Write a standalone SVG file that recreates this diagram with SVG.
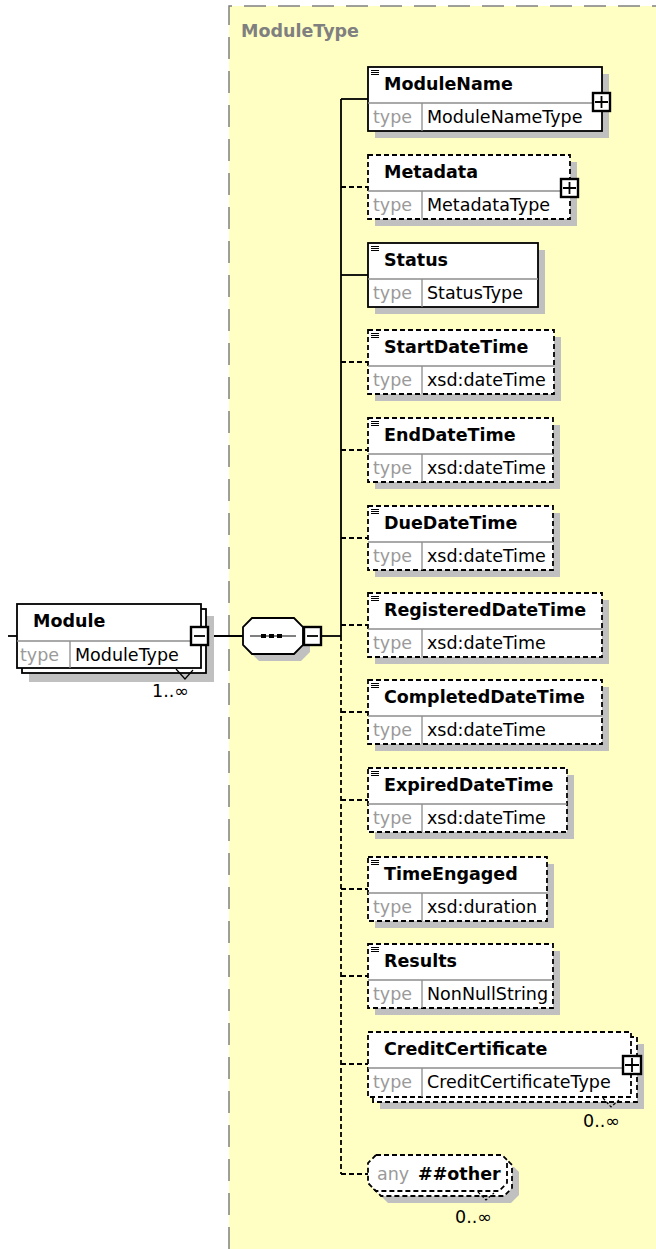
<svg xmlns="http://www.w3.org/2000/svg" width="656" height="1249" viewBox="0 0 656 1249">
<defs>
<style>
.bg{fill:#FFFFC4}
.frame{fill:none;stroke:#808080;stroke-width:1.5;stroke-dasharray:22 12}
.title{font-family:"DejaVu Sans",Verdana,sans-serif;font-weight:bold;font-size:17.5px;fill:#808080}
.shadow{fill:#C0C0C0;stroke:none}
.box{fill:#FFFFFF;stroke:#000;stroke-width:1.8}
.opt{stroke-dasharray:5 3}
.div{stroke:#8C8C8C;stroke-width:1.3;fill:none}
.name{font-family:"DejaVu Sans",Verdana,sans-serif;font-weight:bold;font-size:17.5px;fill:#000}
.lbl{font-family:"DejaVu Sans",Verdana,sans-serif;font-size:17.5px;fill:#9A9A9A}
.val{font-family:"DejaVu Sans",Verdana,sans-serif;font-size:17.5px;fill:#000}
.occ{font-family:"DejaVu Sans",Verdana,sans-serif;font-size:17.5px;fill:#000}
.icon{stroke:#000;stroke-width:1}
.btn{fill:#fff;stroke:#000;stroke-width:2.4}
.sym{stroke:#000;stroke-width:1.8}
.conn{fill:none;stroke:#000;stroke-width:1.8}
.conn.d{stroke-dasharray:5 3}
.tri{fill:none;stroke:#000;stroke-width:1.2}
</style>
</defs>

<rect class="bg" x="229" y="6" width="427" height="1243"/>
<path class="frame" d="M229,1249 V6 H656"/>
<text class="title" x="241" y="37">ModuleType</text>

<g id="connectors">
  <line class="conn" x1="8" y1="636" x2="17" y2="636"/>
  <line class="conn" x1="208" y1="636" x2="243" y2="636"/>
  <line class="conn" x1="321" y1="636" x2="341" y2="636"/>
  <line class="conn" x1="341" y1="99" x2="341" y2="636"/>
  <line class="conn d" x1="341" y1="636" x2="341" y2="1174"/>
  <line class="conn" x1="341" y1="99" x2="368" y2="99"/>
  <line class="conn d" x1="341" y1="187" x2="368" y2="187"/>
  <line class="conn" x1="341" y1="275" x2="368" y2="275"/>
  <line class="conn d" x1="341" y1="362" x2="368" y2="362"/>
  <line class="conn d" x1="341" y1="450" x2="368" y2="450"/>
  <line class="conn d" x1="341" y1="538" x2="368" y2="538"/>
  <line class="conn d" x1="341" y1="625" x2="368" y2="625"/>
  <line class="conn d" x1="341" y1="712" x2="368" y2="712"/>
  <line class="conn d" x1="341" y1="800" x2="368" y2="800"/>
  <line class="conn d" x1="341" y1="889" x2="368" y2="889"/>
  <line class="conn d" x1="341" y1="976" x2="368" y2="976"/>
  <line class="conn d" x1="341" y1="1064" x2="368" y2="1064"/>
  <line class="conn d" x1="341" y1="1174" x2="368" y2="1174"/>
</g>

<g id="Module">
  <rect class="shadow" x="29" y="616" width="185" height="66"/>
  <rect class="box" x="22" y="609" width="184" height="64"/>
  <rect class="box" x="17" y="604" width="184" height="64"/>
  <line class="div" x1="17" y1="641" x2="201" y2="641"/>
  <line class="div" x1="70" y1="641" x2="70" y2="668"/>
  <text class="name" x="33" y="627">Module</text>
  <text class="lbl" x="20" y="661">type</text>
  <text class="val" x="75" y="661">ModuleType</text>
  <polyline class="tri" points="176,669 185,679 193,670"/>
  <rect class="btn" x="191" y="627" width="17" height="18"/>
  <line class="sym" x1="194" y1="636" x2="205" y2="636"/>
  <text class="occ" x="152" y="697">1..∞</text>
</g>

<g id="sequence">
  <polygon class="shadow" points="259,625 301,625 310,634 310,652 301,661 259,661 250,652 250,634"/>
  <polygon class="box" points="252,618 294,618 303,627 303,645 294,654 252,654 243,645 243,627"/>
  <line class="icon" x1="250" y1="636" x2="296" y2="636"/>
  <rect x="261" y="634" width="5" height="4" fill="#000"/>
  <rect x="269" y="634" width="5" height="4" fill="#000"/>
  <rect x="277" y="634" width="5" height="4" fill="#000"/>
  <rect class="btn" x="304" y="627" width="17" height="18"/>
  <line class="sym" x1="307" y1="636" x2="318" y2="636"/>
</g>

<g id="ModuleName">
  <rect class="shadow" x="375" y="74" width="234" height="64"/>
  <rect class="box" x="368" y="67" width="234" height="64"/>
  <line class="div" x1="368" y1="103" x2="602" y2="103"/>
  <line class="div" x1="422" y1="103" x2="422" y2="131"/>
  <path class="icon" d="M371,70.5h8M371,72.5h8M371,74.5h8"/>
  <text class="name" x="384" y="90">ModuleName</text>
  <text class="lbl" x="373" y="123">type</text>
  <text class="val" x="427" y="123">ModuleNameType</text>
  <rect class="btn" x="593" y="93" width="17" height="18"/>
  <path class="sym" d="M595,102h13M601.5,96v12"/>
</g>

<g id="Metadata">
  <rect class="shadow" x="375" y="162" width="202" height="64"/>
  <rect class="box opt" x="368" y="155" width="202" height="64"/>
  <line class="div" x1="368" y1="191" x2="570" y2="191"/>
  <line class="div" x1="422" y1="191" x2="422" y2="219"/>
  <text class="name" x="384" y="178">Metadata</text>
  <text class="lbl" x="373" y="211">type</text>
  <text class="val" x="427" y="211">MetadataType</text>
  <rect class="btn" x="561" y="179" width="17" height="18"/>
  <path class="sym" d="M563,188h13M569.5,182v12"/>
</g>

<g id="Status">
  <rect class="shadow" x="375" y="250" width="170" height="64"/>
  <rect class="box" x="368" y="243" width="170" height="64"/>
  <line class="div" x1="368" y1="279" x2="538" y2="279"/>
  <line class="div" x1="422" y1="279" x2="422" y2="307"/>
  <path class="icon" d="M371,246.5h8M371,248.5h8M371,250.5h8"/>
  <text class="name" x="384" y="266">Status</text>
  <text class="lbl" x="373" y="299">type</text>
  <text class="val" x="427" y="299">StatusType</text>
</g>

<g id="StartDateTime">
  <rect class="shadow" x="375" y="337" width="186" height="64"/>
  <rect class="box opt" x="368" y="330" width="186" height="64"/>
  <line class="div" x1="368" y1="366" x2="554" y2="366"/>
  <line class="div" x1="422" y1="366" x2="422" y2="394"/>
  <path class="icon" d="M371,333.5h8M371,335.5h8M371,337.5h8"/>
  <text class="name" x="384" y="353">StartDateTime</text>
  <text class="lbl" x="373" y="386">type</text>
  <text class="val" x="427" y="386">xsd:dateTime</text>
</g>

<g id="EndDateTime">
  <rect class="shadow" x="375" y="425" width="185" height="64"/>
  <rect class="box opt" x="368" y="418" width="185" height="64"/>
  <line class="div" x1="368" y1="454" x2="553" y2="454"/>
  <line class="div" x1="422" y1="454" x2="422" y2="482"/>
  <path class="icon" d="M371,421.5h8M371,423.5h8M371,425.5h8"/>
  <text class="name" x="384" y="441">EndDateTime</text>
  <text class="lbl" x="373" y="474">type</text>
  <text class="val" x="427" y="474">xsd:dateTime</text>
</g>

<g id="DueDateTime">
  <rect class="shadow" x="375" y="513" width="185" height="64"/>
  <rect class="box opt" x="368" y="506" width="185" height="64"/>
  <line class="div" x1="368" y1="542" x2="553" y2="542"/>
  <line class="div" x1="422" y1="542" x2="422" y2="570"/>
  <path class="icon" d="M371,509.5h8M371,511.5h8M371,513.5h8"/>
  <text class="name" x="384" y="529">DueDateTime</text>
  <text class="lbl" x="373" y="562">type</text>
  <text class="val" x="427" y="562">xsd:dateTime</text>
</g>

<g id="RegisteredDateTime">
  <rect class="shadow" x="375" y="600" width="234" height="64"/>
  <rect class="box opt" x="368" y="593" width="234" height="64"/>
  <line class="div" x1="368" y1="629" x2="602" y2="629"/>
  <line class="div" x1="422" y1="629" x2="422" y2="657"/>
  <path class="icon" d="M371,596.5h8M371,598.5h8M371,600.5h8"/>
  <text class="name" x="384" y="616">RegisteredDateTime</text>
  <text class="lbl" x="373" y="649">type</text>
  <text class="val" x="427" y="649">xsd:dateTime</text>
</g>

<g id="CompletedDateTime">
  <rect class="shadow" x="375" y="687" width="234" height="64"/>
  <rect class="box opt" x="368" y="680" width="234" height="64"/>
  <line class="div" x1="368" y1="716" x2="602" y2="716"/>
  <line class="div" x1="422" y1="716" x2="422" y2="744"/>
  <path class="icon" d="M371,683.5h8M371,685.5h8M371,687.5h8"/>
  <text class="name" x="384" y="703">CompletedDateTime</text>
  <text class="lbl" x="373" y="736">type</text>
  <text class="val" x="427" y="736">xsd:dateTime</text>
</g>

<g id="ExpiredDateTime">
  <rect class="shadow" x="375" y="775" width="199" height="64"/>
  <rect class="box opt" x="368" y="768" width="199" height="64"/>
  <line class="div" x1="368" y1="804" x2="567" y2="804"/>
  <line class="div" x1="422" y1="804" x2="422" y2="832"/>
  <path class="icon" d="M371,771.5h8M371,773.5h8M371,775.5h8"/>
  <text class="name" x="384" y="791">ExpiredDateTime</text>
  <text class="lbl" x="373" y="824">type</text>
  <text class="val" x="427" y="824">xsd:dateTime</text>
</g>

<g id="TimeEngaged">
  <rect class="shadow" x="375" y="864" width="179" height="64"/>
  <rect class="box opt" x="368" y="857" width="179" height="64"/>
  <line class="div" x1="368" y1="893" x2="547" y2="893"/>
  <line class="div" x1="422" y1="893" x2="422" y2="921"/>
  <path class="icon" d="M371,860.5h8M371,862.5h8M371,864.5h8"/>
  <text class="name" x="384" y="880">TimeEngaged</text>
  <text class="lbl" x="373" y="913">type</text>
  <text class="val" x="427" y="913">xsd:duration</text>
</g>

<g id="Results">
  <rect class="shadow" x="375" y="951" width="185" height="64"/>
  <rect class="box opt" x="368" y="944" width="185" height="64"/>
  <line class="div" x1="368" y1="980" x2="553" y2="980"/>
  <line class="div" x1="422" y1="980" x2="422" y2="1008"/>
  <path class="icon" d="M371,947.5h8M371,949.5h8M371,951.5h8"/>
  <text class="name" x="384" y="967">Results</text>
  <text class="lbl" x="373" y="1000">type</text>
  <text class="val" x="427" y="1000">NonNullString</text>
</g>

<g id="CreditCertificate">
  <rect class="shadow" x="380" y="1044" width="264" height="65"/>
  <rect class="box opt" x="373" y="1037" width="264" height="65"/>
  <rect class="box opt" x="368" y="1032" width="263" height="65"/>
  <line class="div" x1="368" y1="1068" x2="631" y2="1068"/>
  <line class="div" x1="422" y1="1068" x2="422" y2="1097"/>
  <text class="name" x="384" y="1055">CreditCertificate</text>
  <text class="lbl" x="373" y="1088">type</text>
  <text class="val" x="427" y="1088">CreditCertificateType</text>
  <polyline class="tri" points="603,1098 611,1107 619,1100" stroke-dasharray="3 2"/>
  <rect class="btn" x="623" y="1056" width="18" height="18"/>
  <path class="sym" d="M625,1065h14M632,1058v14"/>
  <text class="occ" x="583" y="1127">0..∞</text>
</g>

<g id="any">
  <polygon class="shadow" points="388,1167 514,1167 519,1172 519,1195 511,1203 388,1203 380,1195 380,1175"/>
  <polygon class="box opt" points="381,1160 507,1160 512,1165 512,1188 504,1196 381,1196 373,1188 373,1168"/>
  <polygon class="box opt" points="376,1155 502,1155 507,1160 507,1183 499,1191 376,1191 368,1183 368,1163"/>
  <text class="lbl" x="377" y="1180">any</text>
  <text class="name" x="418" y="1180">##other</text>
  <polyline class="tri" points="478,1192 486,1200 494,1193" stroke-dasharray="3 2"/>
  <text class="occ" x="455" y="1223">0..∞</text>
</g>
</svg>
